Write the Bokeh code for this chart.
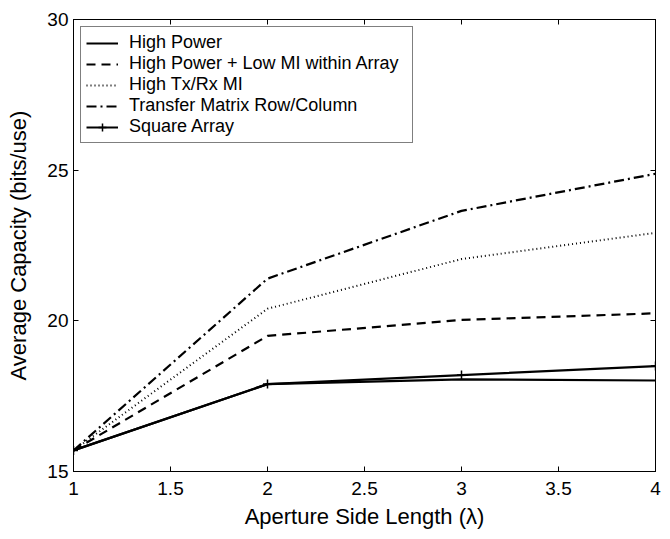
from bokeh.plotting import figure
from bokeh.models import FixedTicker, LinearAxis, Legend, LegendItem, Range1d
from bokeh.embed import file_html
from bokeh.resources import INLINE

x = [1, 2, 3, 4]
high_power = [15.7, 17.9, 18.06, 18.02]
high_power_low_mi = [15.7, 19.5, 20.03, 20.25]
high_txrx_mi = [15.7, 20.4, 22.05, 22.92]
transfer_row_col = [15.7, 21.4, 23.65, 24.88]
square_array = [15.7, 17.9, 18.2, 18.5]

x_ticks = [1, 1.5, 2, 2.5, 3, 3.5, 4]
x_tick_labels = ["1", "1.5", "2", "2.5", "3", "3.5", "4"]
y_ticks = [15, 20, 25, 30]
y_tick_labels = ["15", "20", "25", "30"]

FONT = "Liberation Sans"

p = figure(width=662, height=531, output_backend="svg", toolbar_location=None,
           x_range=Range1d(1, 4), y_range=Range1d(15, 30),
           min_border_left=73, min_border_right=7, min_border_top=19, min_border_bottom=56,
           x_axis_label="Aperture Side Length (\u03bb)",
           y_axis_label="Average Capacity (bits/use)")
p.xgrid.visible = False
p.ygrid.visible = False
p.outline_line_color = "black"
p.outline_line_width = 1
p.background_fill_color = "white"
p.border_fill_color = "white"

for ax, ticks, labels in ((p.xaxis[0], x_ticks, x_tick_labels), (p.yaxis[0], y_ticks, y_tick_labels)):
    ax.ticker = FixedTicker(ticks=ticks)
    ax.major_label_overrides = {t: l for t, l in zip(ticks, labels)}
    ax.major_tick_in = 5
    ax.major_tick_out = 0
    ax.minor_tick_in = 0
    ax.minor_tick_out = 0
    ax.major_label_text_font = FONT
    ax.major_label_text_font_size = "19px"
    ax.major_label_text_color = "black"
    ax.axis_label_text_font = FONT
    ax.axis_label_text_font_size = "22px"
    ax.axis_label_text_font_style = "normal"
    ax.axis_label_text_color = "black"
    ax.axis_line_color = "black"
    ax.major_tick_line_color = "black"

p.xaxis.major_label_standoff = 10
p.xaxis.axis_label_standoff = 6
p.yaxis.major_label_standoff = 5
p.yaxis.axis_label_standoff = 13

for loc, ticks in (("right", y_ticks), ("above", x_ticks)):
    a = LinearAxis(ticker=FixedTicker(ticks=ticks), major_label_text_font_size="0px",
                   major_tick_in=5, major_tick_out=0, minor_tick_in=0, minor_tick_out=0,
                   major_label_standoff=0, axis_line_color="black", major_tick_line_color="black")
    a.major_label_overrides = {t: "" for t in ticks}
    p.add_layout(a, loc)

lw = 2.2
r1 = p.line(x, high_power, line_color="black", line_width=lw)
r2 = p.line(x, high_power_low_mi, line_color="black", line_width=lw, line_dash="9 6")
r3 = p.line(x, high_txrx_mi, line_color="black", line_width=2, line_dash="1 3")
r4 = p.line(x, transfer_row_col, line_color="black", line_width=lw, line_dash="10 4 2 4")
r5 = p.line(x, square_array, line_color="black", line_width=lw)
r5m = p.scatter(x, square_array, marker="cross", size=9, line_color="black", line_width=1.5)

legend = Legend(items=[
    LegendItem(label="High Power", renderers=[r1]),
    LegendItem(label="High Power + Low MI within Array", renderers=[r2]),
    LegendItem(label="High Tx/Rx MI", renderers=[r3]),
    LegendItem(label="Transfer Matrix Row/Column", renderers=[r4]),
    LegendItem(label="Square Array", renderers=[r5, r5m]),
], location="top_left")
legend.margin = 7
legend.padding = 5
legend.spacing = 0
legend.glyph_width = 32
legend.glyph_height = 20
legend.label_height = 20
legend.label_width = 278
legend.label_standoff = 11
legend.label_text_font = FONT
legend.label_text_font_size = "18px"
legend.label_text_color = "black"
legend.border_line_color = "black"
legend.border_line_width = 1
legend.background_fill_alpha = 1
p.add_layout(legend, "center")

open("out.html", "w").write(file_html(p, INLINE))
